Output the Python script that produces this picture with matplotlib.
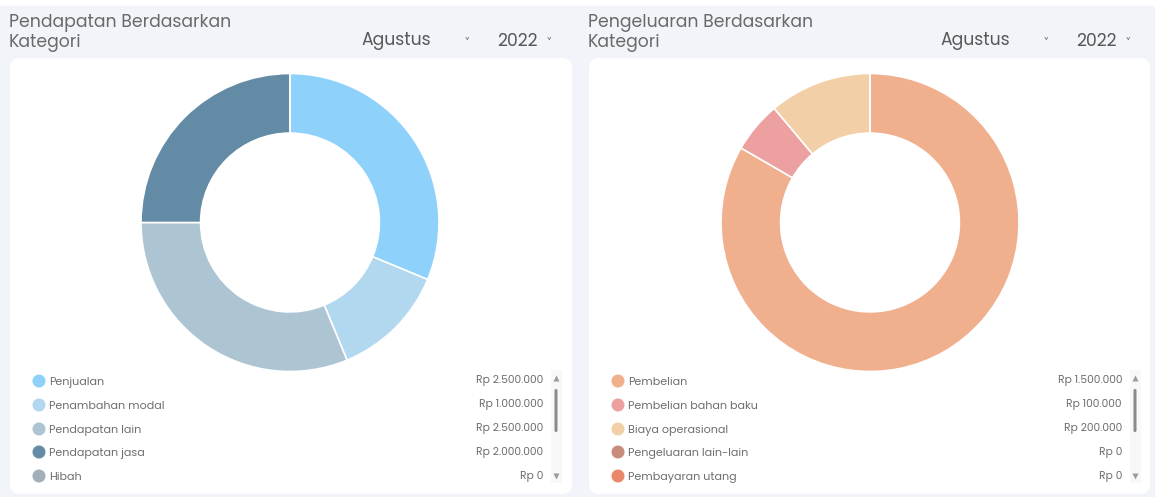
import matplotlib
matplotlib.use("Agg")
import matplotlib.pyplot as plt
from matplotlib.patches import FancyBboxPatch, Circle, Rectangle

plt.rcParams['font.family'] = ['Poppins', 'Lato', 'DejaVu Sans']

# ---- data ----
income_title = "Pendapatan Berdasarkan\nKategori"
income_labels = ["Penjualan", "Penambahan modal", "Pendapatan lain", "Pendapatan jasa", "Hibah"]
income_values = [2500000, 1000000, 2500000, 2000000, 0]
income_colors = ["#8ED1FA", "#B2D8EF", "#ADC4D3", "#638BA5", "#A2AEB8"]

expense_title = "Pengeluaran Berdasarkan\nKategori"
expense_labels = ["Pembelian", "Pembelian bahan baku", "Biaya operasional",
                  "Pengeluaran lain-lain", "Pembayaran utang"]
expense_values = [1500000, 100000, 200000, 0, 0]
expense_colors = ["#F0AF8D", "#EDA0A0", "#F2CFA6", "#C98C7A", "#E8876A"]

month = "Agustus"
year = "2022"

W, H = 1155, 497
fig = plt.figure(figsize=(W / 100, H / 100), dpi=100)
fig.patch.set_facecolor("white")
bg = fig.add_axes([0, 0, 1, 1])
bg.set_xlim(0, W)
bg.set_ylim(H, 0)
bg.axis("off")
bg.add_patch(Rectangle((0, 6), W, H - 6, facecolor="#F1F4F8", edgecolor="none"))


def fmt_rp(v):
    return "Rp " + f"{v:,}".replace(",", ".")


def panel(x0, x1, title, labels, values, colors, cx):
    # card
    bg.add_patch(FancyBboxPatch((x0 + 8, 66), (x1 - x0) - 16, 420,
                                boxstyle="round,pad=8,rounding_size=10",
                                facecolor="white", edgecolor="none"))
    bg.text(x0 - 1, 33, title, fontsize=12.4, color="#6A6A6A", va="center",
            ha="left", linespacing=1.12)
    bg.text(x0 + 351, 41.5, month, fontsize=12.4, color="#585858", va="center", ha="left")
    bg.text(x0 + 457, 41.5, "˅", fontsize=7, color="#585858", va="center", ha="center")
    bg.text(x0 + 487, 41.5, year, fontsize=12.4, color="#585858", va="center", ha="left")
    bg.text(x0 + 539, 41.5, "˅", fontsize=7, color="#585858", va="center", ha="center")

    # donut
    R = 149
    cy = 222.5
    ax = fig.add_axes([(cx - R) / W, (H - cy - R) / H, 2 * R / W, 2 * R / H])
    ax.pie(values, colors=colors, startangle=90, counterclock=False,
           radius=1.0, wedgeprops=dict(width=0.4, edgecolor="white", linewidth=1.2))
    ax.set_xlim(-1, 1)
    ax.set_ylim(-1, 1)
    ax.set_aspect("auto")
    ax.axis("off")

    # legend
    clip = Rectangle((x0, 370), x1 - x0, 113, transform=bg.transData)
    ys = [381, 405, 429, 452, 476]
    for y, lab, val, col in zip(ys, labels, values, colors):
        c = Circle((x0 + 29, y), 6.5, facecolor=col, edgecolor="none")
        bg.add_patch(c)
        c.set_clip_path(clip)
        t1 = bg.text(x0 + 39, y + 1.5, lab, fontsize=8, color="#6E6E6E", va="center", ha="left")
        t2 = bg.text(x0 + 533, y, fmt_rp(val), fontsize=7.7, color="#6E6E6E",
                     va="center", ha="right")
        t1.set_clip_path(clip)
        t2.set_clip_path(clip)

    # scrollbar
    sx = x0 + 546
    bg.add_patch(Rectangle((sx - 5, 370), 11, 113, facecolor="#F8F8F8", edgecolor="none"))
    bg.add_patch(FancyBboxPatch((sx - 1.5, 389), 3, 43,
                                boxstyle="round,pad=0,rounding_size=1.5",
                                facecolor="#8A8A8A", edgecolor="none"))
    bg.plot([sx], [378], marker="^", markersize=4, color="#9A9A9A", mec="none")
    bg.plot([sx], [476], marker="v", markersize=4, color="#9A9A9A", mec="none")


panel(10, 572, income_title, income_labels, income_values, income_colors, 290)
panel(589, 1150, expense_title, expense_labels, expense_values, expense_colors, 870)

fig.savefig("out.png", dpi=100, facecolor=fig.get_facecolor())
